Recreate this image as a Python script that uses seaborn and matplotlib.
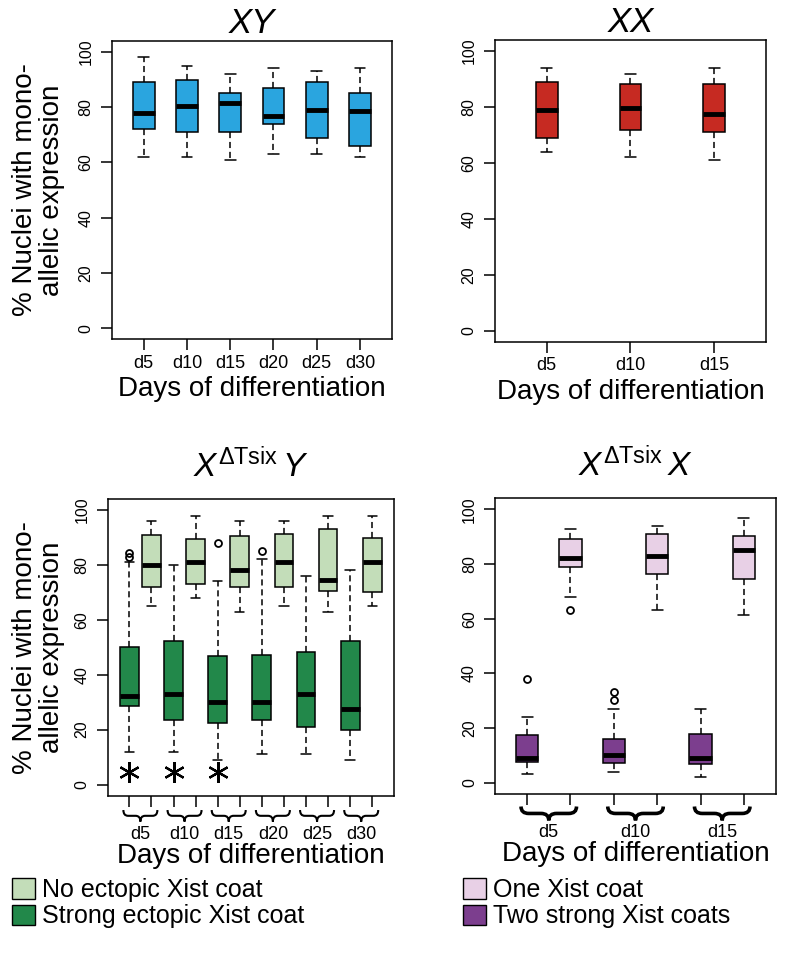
import pandas as pd
import matplotlib.pyplot as plt
from matplotlib.patches import Patch, PathPatch
from matplotlib.path import Path
import matplotlib.transforms as mtransforms
import seaborn as sns

# categories
days_xy = ['d5', 'd10', 'd15', 'd20', 'd25', 'd30']
days_xx = ['d5', 'd10', 'd15']

# five-number summaries: whisker low, Q1, median, Q3, whisker high
xy_stats = [
    [61.8, 71.9, 78.0, 88.9, 98.0],
    [61.8, 71.0, 80.5, 89.9, 94.9],
    [60.8, 71.0, 81.3, 84.9, 91.9],
    [62.9, 73.9, 76.9, 87.0, 94.0],
    [62.9, 68.9, 78.9, 88.9, 93.0],
    [61.8, 65.9, 78.6, 84.9, 94.0],
]
xx_stats = [
    [63.9, 68.9, 78.9, 88.9, 93.8],
    [61.9, 71.8, 79.5, 88.0, 91.8],
    [60.9, 70.9, 77.4, 88.0, 93.8],
]
tsixy_strong = [
    [12.0, 28.5, 32.1, 50.1, 81.1],
    [12.0, 23.5, 33.1, 52.1, 79.8],
    [9.1, 22.4, 30.1, 46.7, 74.0],
    [11.0, 23.5, 30.1, 47.0, 82.0],
    [11.0, 21.1, 33.1, 48.1, 76.0],
    [9.1, 20.0, 27.6, 52.1, 78.0],
]
tsixy_none = [
    [65.1, 72.0, 80.0, 90.9, 96.0],
    [68.1, 73.0, 81.1, 89.3, 97.9],
    [63.0, 72.0, 78.0, 90.4, 96.0],
    [65.1, 72.0, 81.1, 91.4, 96.0],
    [63.0, 70.5, 74.5, 93.0, 97.9],
    [65.1, 70.0, 81.1, 89.9, 97.9],
]
tsixx_two = [
    [3.2, 7.6, 9.0, 17.6, 24.0],
    [4.1, 7.4, 10.2, 16.0, 27.1],
    [2.1, 7.0, 9.0, 18.0, 27.1],
]
tsixx_one = [
    [68.1, 79.0, 82.1, 89.1, 92.8],
    [63.2, 76.5, 83.0, 90.9, 93.9],
    [61.2, 74.5, 85.1, 90.4, 96.8],
]

# outliers (day, group, value)
tsixy_out_day = ['d5', 'd5', 'd15', 'd20']
tsixy_out_grp = ['strong', 'strong', 'strong', 'strong']
tsixy_out_val = [83.0, 84.2, 88.0, 85.1]
tsixx_out_day = ['d5', 'd5', 'd10', 'd10']
tsixx_out_grp = ['one', 'two', 'two', 'two']
tsixx_out_val = [63.2, 38.0, 33.2, 30.1]

# significance stars
star_days = ['d5', 'd10', 'd15']
star_val = 4.5

c_blue = '#2aa5df'
c_red = '#c62a22'
c_light = '#c3ddb9'
c_dark = '#22884a'
c_pink = '#e8d0e6'
c_purple = '#7c3e8e'

sns.set_style('ticks')
plt.rcParams['font.family'] = ['Liberation Sans', 'DejaVu Sans']
plt.rcParams['mathtext.fontset'] = 'custom'
plt.rcParams['mathtext.rm'] = 'Liberation Sans'
plt.rcParams['mathtext.it'] = 'Liberation Sans:italic'
plt.rcParams['axes.edgecolor'] = 'black'
plt.rcParams['axes.linewidth'] = 1.1
plt.rcParams['text.color'] = 'black'
plt.rcParams['axes.labelcolor'] = 'black'
plt.rcParams['axes.titlecolor'] = 'black'
plt.rcParams['xtick.color'] = 'black'
plt.rcParams['ytick.color'] = 'black'


def long_table(days, groups):
    rows = []
    for grp, stats in groups:
        for d, vals in zip(days, stats):
            for v in vals:
                rows.append({'box': d + '_' + grp, 'group': grp, 'value': v})
    return pd.DataFrame(rows)


box_kws = dict(whis=(0, 100), saturation=1, linecolor='black', linewidth=1.1,
               fliersize=0, legend=False,
               medianprops={'linewidth': 3.5, 'color': 'black'},
               whiskerprops={'linestyle': (0, (4, 2.5))})


def style_axes(ax, n):
    pad = 0.04 * n
    ax.set_xlim(-0.5 - pad, n - 0.5 + pad)
    ax.set_ylim(-4, 104)
    ax.set_yticks(range(0, 101, 20))
    ax.tick_params(axis='y', labelrotation=90, labelsize=11.5, length=8, width=1.1, pad=5)
    ax.tick_params(axis='x', length=8, width=1.1)
    plt.setp(ax.get_yticklabels(), va='center')
    for s in ax.spines.values():
        s.set_visible(True)
    ax.set_ylabel('')


def brace(ax, x0, x1, y0, y1, lw):
    xm = (x0 + x1) / 2
    ym = (y0 + y1) / 2
    r = 0.14 * (x1 - x0)
    verts = [(x0, y0), (x0, ym), (x0 + r, ym), (xm - r, ym), (xm, ym), (xm, y1),
             (xm, ym), (xm + r, ym), (x1 - r, ym), (x1, ym), (x1, y0)]
    codes = [Path.MOVETO, Path.CURVE3, Path.CURVE3, Path.LINETO, Path.CURVE3, Path.CURVE3,
             Path.CURVE3, Path.CURVE3, Path.LINETO, Path.CURVE3, Path.CURVE3]
    trans = mtransforms.blended_transform_factory(ax.transData, ax.transAxes)
    ax.add_patch(PathPatch(Path(verts, codes), transform=trans, fill=False,
                           lw=lw, color='black', clip_on=False, capstyle='butt'))


W, H = 796, 975
fig = plt.figure(figsize=(W / 100, H / 100), dpi=100)


def px_axes(l, t, r, b):
    return fig.add_axes([l / W, 1 - b / H, (r - l) / W, (b - t) / H])


ax_xy = px_axes(111.7, 40.6, 392, 339.4)
ax_xx = px_axes(494.8, 39.5, 766, 342)
ax_ty = px_axes(107.7, 499, 393.9, 795.5)
ax_tx = px_axes(495, 498.3, 776, 793.8)

# XY
df = long_table(days_xy, [('xy', xy_stats)])
sns.boxplot(data=df, x='box', y='value', order=[d + '_xy' for d in days_xy],
            color=c_blue, width=0.5, ax=ax_xy, **box_kws)
style_axes(ax_xy, 6)
ax_xy.set_xticks(range(6), labels=days_xy)

# XX
df = long_table(days_xx, [('xx', xx_stats)])
sns.boxplot(data=df, x='box', y='value', order=[d + '_xx' for d in days_xx],
            color=c_red, width=0.26, ax=ax_xx, **box_kws)
style_axes(ax_xx, 3)
ax_xx.set_xticks(range(3), labels=days_xx)

for ax in (ax_xy, ax_xx):
    ax.tick_params(axis='x', labelsize=13, pad=3)
    ax.set_xlabel('Days of differentiation', fontsize=20, va='center')
    ax.xaxis.set_label_coords(0.5, -0.165)

# X^dTsix Y
order_ty = []
for d in days_xy:
    order_ty += [d + '_strong', d + '_none']
df = long_table(days_xy, [('strong', tsixy_strong), ('none', tsixy_none)])
sns.boxplot(data=df, x='box', y='value', hue='group', order=order_ty, dodge=False,
            palette={'strong': c_dark, 'none': c_light}, width=0.85, ax=ax_ty, **box_kws)
style_axes(ax_ty, 12)
ox = [order_ty.index(d + '_' + g) for d, g in zip(tsixy_out_day, tsixy_out_grp)]
ax_ty.plot(ox, tsixy_out_val, 'o', mfc='none', mec='black', ms=5, mew=1.3)
sx = [order_ty.index(d + '_strong') for d in star_days]
ax_ty.plot(sx, [star_val] * len(sx), linestyle='none', marker=(6, 2, 0),
           ms=15, mew=1.6, color='black')
for i in range(len(days_xy)):
    brace(ax_ty, 2 * i + 0.5 - 0.77, 2 * i + 0.5 + 0.77, -0.049, -0.088, 1.5)

# X^dTsix X
order_tx = []
for d in days_xx:
    order_tx += [d + '_two', d + '_one']
df = long_table(days_xx, [('two', tsixx_two), ('one', tsixx_one)])
sns.boxplot(data=df, x='box', y='value', hue='group', order=order_tx, dodge=False,
            palette={'two': c_purple, 'one': c_pink}, width=0.51, ax=ax_tx, **box_kws)
style_axes(ax_tx, 6)
ox = [order_tx.index(d + '_' + g) for d, g in zip(tsixx_out_day, tsixx_out_grp)]
ax_tx.plot(ox, tsixx_out_val, 'o', mfc='none', mec='black', ms=5, mew=1.3)
for i in range(len(days_xx)):
    brace(ax_tx, 2 * i + 0.5 - 0.64, 2 * i + 0.5 + 0.64, -0.043, -0.09, 2.6)

for ax, days in ((ax_ty, days_xy), (ax_tx, days_xx)):
    n = 2 * len(days)
    ax.set_xticks(range(n), labels=[''] * n)
    ax.set_xticks([2 * i + 0.5 for i in range(len(days))], labels=days, minor=True)
    ax.tick_params(axis='x', which='minor', length=0, labelsize=13, pad=22)
    ax.set_xlabel('Days of differentiation', fontsize=20, va='center')
    ax.xaxis.set_label_coords(0.5, -0.205)

ylab = '% Nuclei with mono-\nallelic expression'
ax_xy.set_ylabel(ylab, fontsize=20, va='center', linespacing=1.05)
ax_xy.yaxis.set_label_coords(-0.26, 0.5)
ax_ty.set_ylabel(ylab, fontsize=20, va='center', linespacing=1.05)
ax_ty.yaxis.set_label_coords(-0.242, 0.5)

ax_xy.set_title('XY', fontsize=25, fontstyle='italic', y=1.025, pad=0, va='baseline')
ax_xx.set_title('XX', fontsize=25, fontstyle='italic', y=1.025, pad=0, va='baseline')
ax_ty.set_title(r'$X^{\Delta\mathrm{Tsix}}\,Y$', fontsize=24, y=1.075, pad=0, va='baseline')
ax_tx.set_title(r'$X^{\Delta\mathrm{Tsix}}\,X$', fontsize=24, y=1.075, pad=0, va='baseline')

leg_kws = dict(loc='upper left', frameon=False, fontsize=18, handlelength=0.9,
               handleheight=0.9, handletextpad=0.3, labelspacing=0.1,
               borderpad=0, borderaxespad=0)
fig.legend(handles=[Patch(fc=c_light, ec='black', lw=1, label='No ectopic Xist coat'),
                    Patch(fc=c_dark, ec='black', lw=1, label='Strong ectopic Xist coat')],
           bbox_to_anchor=(12 / W, 1 - 878 / H), **leg_kws)
fig.legend(handles=[Patch(fc=c_pink, ec='black', lw=1, label='One Xist coat'),
                    Patch(fc=c_purple, ec='black', lw=1, label='Two strong Xist coats')],
           bbox_to_anchor=(463 / W, 1 - 878 / H), **leg_kws)

fig.savefig('out.png', dpi=100)
